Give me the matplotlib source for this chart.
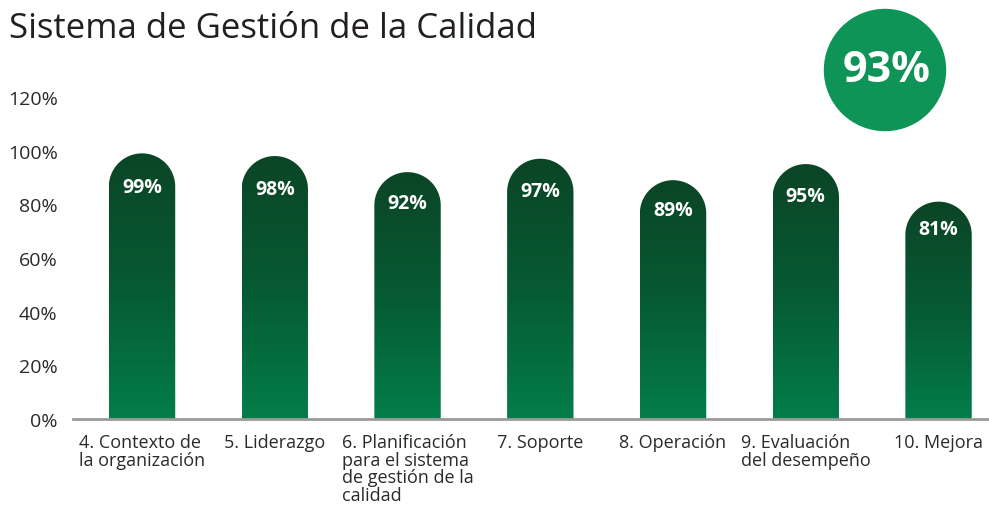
import matplotlib.pyplot as plt
import numpy as np
from matplotlib.path import Path
from matplotlib.patches import PathPatch, Ellipse
from matplotlib.colors import LinearSegmentedColormap

plt.rcParams['font.family'] = ['Open Sans', 'DejaVu Sans']

categories = ["4. Contexto de\nla organización", "5. Liderazgo",
              "6. Planificación\npara el sistema\nde gestión de la\ncalidad",
              "7. Soporte", "8. Operación", "9. Evaluación\ndel desempeño", "10. Mejora"]
values = [99, 98, 92, 97, 89, 95, 81]
overall = 93

W, H = 989, 506
fig = plt.figure(figsize=(W / 100, H / 100), dpi=100)
ax = fig.add_axes([73 / W, 1 - 420 / H, 1 - 73 / W, (420 - 98) / H])
ax.set_xlim(-0.52, 6.38)
ax.set_ylim(0, 120)

# gradient: dark on top, brighter green at bottom
cmap = LinearSegmentedColormap.from_list("g", ["#037d4a", "#065a33", "#0b4526"])

# pixel scale to get round caps
px_x = ax.bbox.width / (6.38 + 0.52)
px_y = ax.bbox.height / 120
bw = 0.5
rx = bw / 2
ry = rx * px_x / px_y

for i, v in enumerate(values):
    x0, x1 = i - rx, i + rx
    yc = v - ry
    t = np.linspace(0, np.pi, 60)
    verts = [(x0, 0), (x1, 0), (x1, yc)]
    verts += [(i + rx * np.cos(a), yc + ry * np.sin(a)) for a in t]
    verts += [(x0, 0)]
    codes = [Path.MOVETO] + [Path.LINETO] * (len(verts) - 2) + [Path.CLOSEPOLY]
    patch = PathPatch(Path(verts, codes), facecolor='none', edgecolor='none')
    ax.add_patch(patch)
    grad = np.linspace(0, 1, 256).reshape(-1, 1)
    im = ax.imshow(grad, cmap=cmap, extent=(x0, x1, 0, v), origin='lower',
                   aspect='auto', interpolation='bicubic', zorder=2)
    im.set_clip_path(patch)
    ax.text(i, v * 0.875, f"{v}%", ha='center', va='center', color='white',
            fontsize=14, fontweight='bold', zorder=3)

ax.set_yticks(np.arange(0, 121, 20))
ax.set_yticklabels([f"{t}%" for t in range(0, 121, 20)], fontsize=14, color='#2a2a2a')
ax.set_xticks(range(len(categories)))
ax.set_xticklabels(categories, fontsize=13, color='#2a2a2a', va='top',
                   multialignment='left', linespacing=0.98)
ax.tick_params(axis='both', length=0)
ax.tick_params(axis='y', pad=11)
ax.tick_params(axis='x', pad=10)
for s in ['top', 'right', 'left']:
    ax.spines[s].set_visible(False)
ax.spines['bottom'].set_color('#9a9a9a')
ax.spines['bottom'].set_linewidth(2)
ax.spines['bottom'].set_zorder(4)

fig.text(9 / W, 1 - 29 / H, "Sistema de Gestión de la Calidad", fontsize=25,
         color='#231f20', ha='left', va='center')

circ = Ellipse((885 / W, 1 - 71 / H), 121 / W, 121 / H, transform=fig.transFigure,
               color='#0e9456')
fig.add_artist(circ)
fig.text(887 / W, 1 - 71 / H, f"{overall}%", fontsize=31, fontweight='bold',
         color='white', ha='center', va='center')

fig.savefig("out.png", dpi=100)
